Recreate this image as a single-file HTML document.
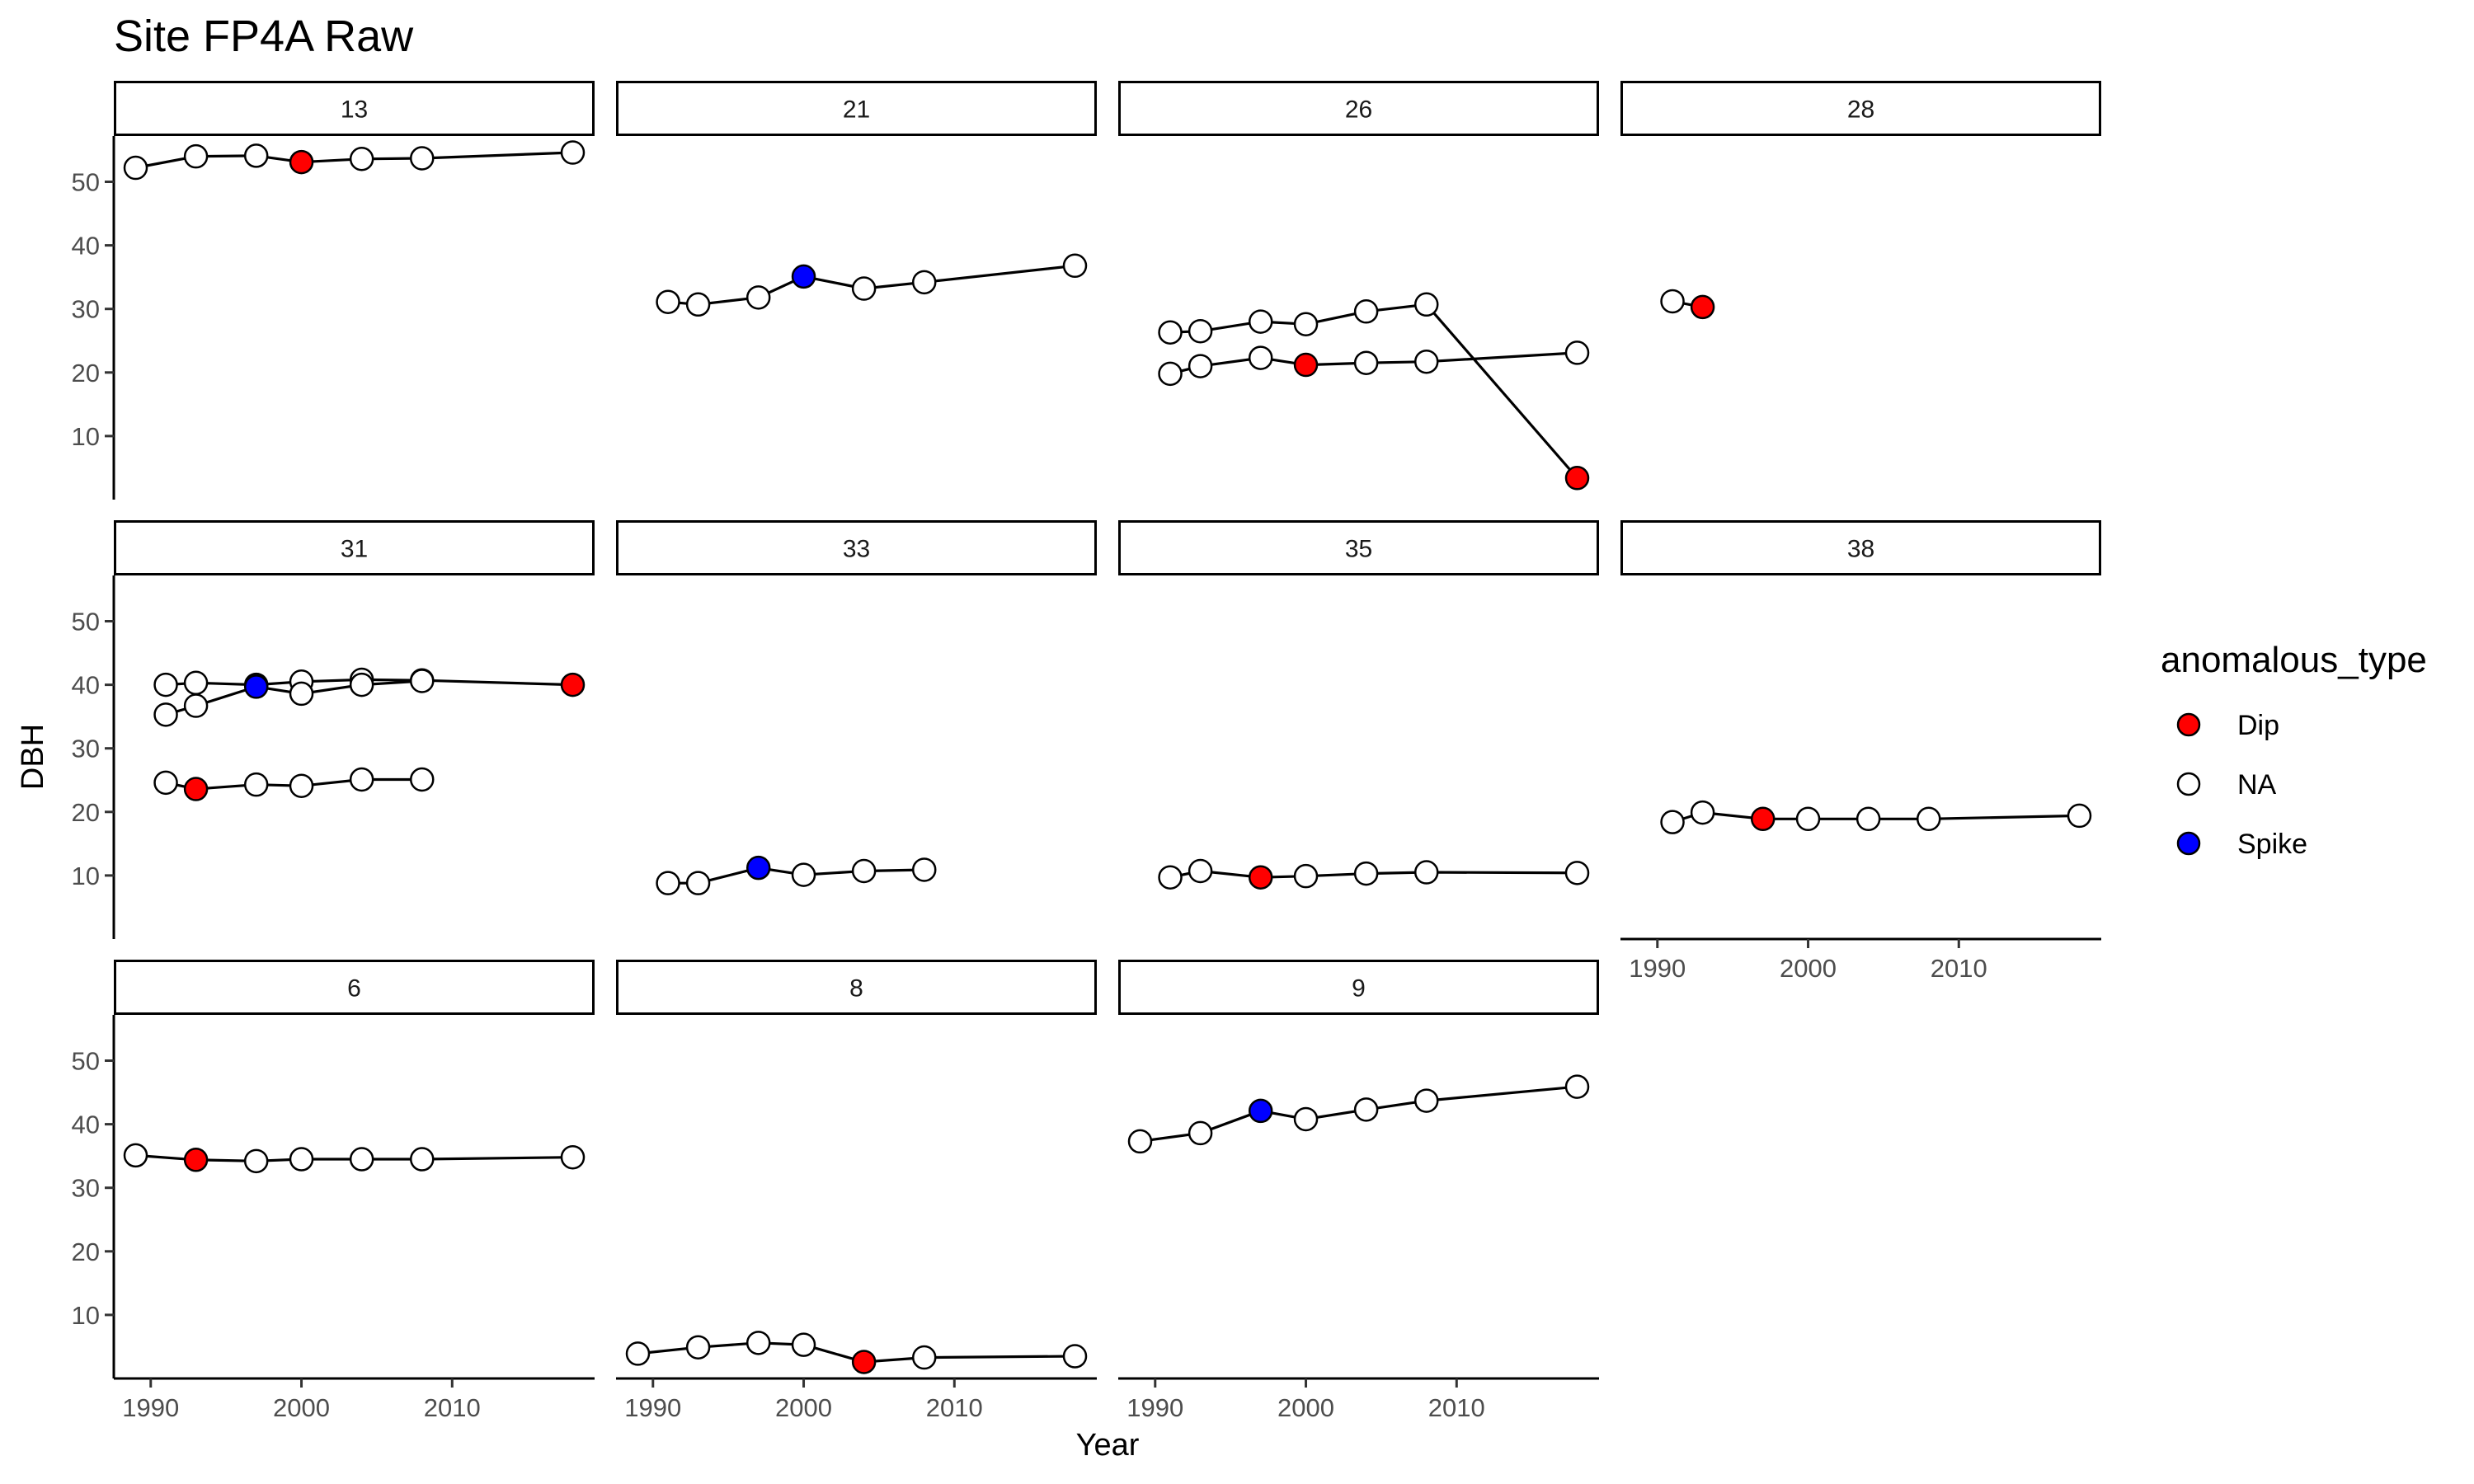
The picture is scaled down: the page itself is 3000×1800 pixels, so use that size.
<!DOCTYPE html>
<html><head><meta charset="utf-8"><style>
html,body{margin:0;padding:0;background:#fff;}
svg{display:block;font-family:"Liberation Sans",Arial,sans-serif;}
</style></head><body>
<svg id="chart" width="3000" height="1800" viewBox="0 0 3000 1800" xmlns="http://www.w3.org/2000/svg">
<rect x="0" y="0" width="3000" height="1800" fill="#fff"/>
<text x="138" y="62" font-size="54" fill="#000">Site FP4A Raw</text>
<text x="1343" y="1765" font-size="38" text-anchor="middle" fill="#000">Year</text>
<text transform="translate(52,918) rotate(-90)" font-size="38" text-anchor="middle" fill="#000">DBH</text>
<g>
<text x="2620" y="815" font-size="44" fill="#000">anomalous_type</text>
<g><circle cx="2654" cy="879" r="13" fill="#ff0000" stroke="#000" stroke-width="2.5"/><text x="2713" y="891" font-size="34" fill="#000">Dip</text></g>
<g><circle cx="2654" cy="951" r="13" fill="#fff" stroke="#000" stroke-width="2.5"/><text x="2713" y="963" font-size="34" fill="#000">NA</text></g>
<g><circle cx="2654" cy="1023" r="13" fill="#0000ff" stroke="#000" stroke-width="2.5"/><text x="2713" y="1035" font-size="34" fill="#000">Spike</text></g>
</g>
<g id="panels"></g>
</svg>
<script>
// ---- data ----
const panelIds = ["13","21","26","28","31","33","35","38","6","8","9"];
const years = [1989,1991,1993,1997,2000,2004,2008,2018];
const xTicks = [1990,2000,2010];
const yTicks = [10,20,30,40,50];
const s13Years = [1989,1993,1997,2000,2004,2008,2018];
const s13Dbh   = [52.2,54.0,54.1,53.1,53.6,53.7,54.6];
const s13Type  = ["N","N","N","D","N","N","N"];
const s21Years = [1991,1993,1997,2000,2004,2008,2018];
const s21Dbh   = [31.1,30.7,31.8,35.1,33.2,34.2,36.8];
const s21Type  = ["N","N","N","S","N","N","N"];
const s26aYears = [1991,1993,1997,2000,2004,2008,2018];
const s26aDbh   = [26.3,26.5,28.0,27.6,29.6,30.7,3.4];
const s26aType  = ["N","N","N","N","N","N","D"];
const s26bYears = [1991,1993,1997,2000,2004,2008,2018];
const s26bDbh   = [19.8,21.0,22.3,21.2,21.5,21.7,23.1];
const s26bType  = ["N","N","N","D","N","N","N"];
const s28Years = [1991,1993];
const s28Dbh   = [31.2,30.3];
const s28Type  = ["N","D"];
const s31aYears = [1991,1993,1997,2000,2004,2008,2018];
const s31aDbh   = [40.0,40.3,40.0,40.5,40.8,40.7,40.0];
const s31aType  = ["N","N","N","N","N","N","D"];
const s31bYears = [1991,1993,1997,2000,2004,2008];
const s31bDbh   = [35.3,36.7,39.7,38.6,40.0,40.6];
const s31bType  = ["N","N","S","N","N","N"];
const s31cYears = [1991,1993,1997,2000,2004,2008];
const s31cDbh   = [24.6,23.6,24.3,24.1,25.1,25.1];
const s31cType  = ["N","D","N","N","N","N"];
const s33Years = [1991,1993,1997,2000,2004,2008];
const s33Dbh   = [8.8,8.8,11.2,10.1,10.7,10.9];
const s33Type  = ["N","N","S","N","N","N"];
const s35Years = [1991,1993,1997,2000,2004,2008,2018];
const s35Dbh   = [9.7,10.7,9.7,9.9,10.3,10.5,10.4];
const s35Type  = ["N","N","D","N","N","N","N"];
const s38Years = [1991,1993,1997,2000,2004,2008,2018];
const s38Dbh   = [18.4,19.9,18.9,18.9,18.9,18.9,19.4];
const s38Type  = ["N","N","D","N","N","N","N"];
const s6Years = [1989,1993,1997,2000,2004,2008,2018];
const s6Dbh   = [35.1,34.4,34.2,34.5,34.5,34.5,34.8];
const s6Type  = ["N","D","N","N","N","N","N"];
const s8Years = [1989,1993,1997,2000,2004,2008,2018];
const s8Dbh   = [3.9,4.9,5.6,5.3,2.6,3.3,3.5];
const s8Type  = ["N","N","N","N","D","N","N"];
const s9Years = [1989,1993,1997,2000,2004,2008,2018];
const s9Dbh   = [37.3,38.6,42.1,40.8,42.3,43.7,45.9];
const s9Type  = ["N","N","S","N","N","N","N"];

const seriesList = [
 ["13",s13Years,s13Dbh,s13Type],["21",s21Years,s21Dbh,s21Type],
 ["26",s26aYears,s26aDbh,s26aType],["26",s26bYears,s26bDbh,s26bType],
 ["28",s28Years,s28Dbh,s28Type],
 ["31",s31aYears,s31aDbh,s31aType],["31",s31bYears,s31bDbh,s31bType],["31",s31cYears,s31cDbh,s31cType],
 ["33",s33Years,s33Dbh,s33Type],["35",s35Years,s35Dbh,s35Type],["38",s38Years,s38Dbh,s38Type],
 ["6",s6Years,s6Dbh,s6Type],["8",s8Years,s8Dbh,s8Type],["9",s9Years,s9Dbh,s9Type]
];

// ---- layout ----
const NS="http://www.w3.org/2000/svg";
const colX=[138,747,1356,1965], PW=583;
const rowStrip=[98,631,1164], SH=67, PH=441;
function mk(tag,attrs,parent){const e=document.createElementNS(NS,tag);for(const k in attrs)e.setAttribute(k,attrs[k]);parent.appendChild(e);return e;}

let allY=[],allX=[];
seriesList.forEach(s=>{allY=allY.concat(s[2]);allX=allX.concat(s[1]);});
const yMin=Math.min(...allY), yMax=Math.max(...allY), yR=yMax-yMin;
const yLo=yMin-0.05*yR, yHi=yMax+0.05*yR;
const xMin=Math.min(...allX), xMax=Math.max(...allX), xR=xMax-xMin;
const xLo=xMin-0.05*xR, xHi=xMax+0.05*xR;
function xs(v,px){return px+(v-xLo)/(xHi-xLo)*PW;}
function ys(v,py){return py+PH-(v-yLo)/(yHi-yLo)*PH;}
const fills={D:"#ff0000",N:"#ffffff",S:"#0000ff"};

const root=document.getElementById("panels");
panelIds.forEach((id,i)=>{
  const r=Math.floor(i/4), c=i%4;
  const px=colX[c], st=rowStrip[r], py=st+SH;
  const g=mk("g",{},root);
  
  
  const strip=mk("rect",{x:px+1.5,y:st+1.5,width:PW-3,height:SH-3,fill:"#fff",stroke:"#000","stroke-width":3},g);
  
  
  const stt=mk("text",{x:px+PW/2,y:st+SH/2+11,"font-size":30,"text-anchor":"middle",fill:"#1a1a1a"},g);
  stt.textContent=id;
  
  
  if(c===0){
    const ya=mk("g",{},g);
    
    
    mk("line",{x1:px,y1:py,x2:px,y2:py+PH,stroke:"#000","stroke-width":3},ya);
    yTicks.forEach(t=>{
      const y=ys(t,py);
      mk("line",{x1:px-11,y1:y,x2:px,y2:y,stroke:"#333","stroke-width":3},ya);
      const tt=mk("text",{x:px-17,y:y+11,"font-size":31,"text-anchor":"end",fill:"#4d4d4d"},ya);
      tt.textContent=t;
    });
  }
  if(r===2 || (r===1 && c===3)){
    const xa=mk("g",{},g);
    
    
    mk("line",{x1:px,y1:py+PH,x2:px+PW,y2:py+PH,stroke:"#000","stroke-width":3},xa);
    xTicks.forEach(t=>{
      const x=xs(t,px);
      mk("line",{x1:x,y1:py+PH,x2:x,y2:py+PH+11,stroke:"#333","stroke-width":3},xa);
      const tt=mk("text",{x:x,y:py+PH+46,"font-size":31,"text-anchor":"middle",fill:"#4d4d4d"},xa);
      tt.textContent=t;
    });
  }
  seriesList.filter(s=>s[0]===id).forEach((s,si)=>{
    const sg=mk("g",{},g);
    
    
    const pts=s[1].map((yr,k)=>xs(yr,px).toFixed(1)+","+ys(s[2][k],py).toFixed(1)).join(" ");
    const pl=mk("polyline",{points:pts,fill:"none",stroke:"#000","stroke-width":3.2,"stroke-linejoin":"round"},sg);
    
    
  });
  seriesList.filter(s=>s[0]===id).forEach((s,si)=>{
    s[1].forEach((yr,k)=>{
      const cc=mk("circle",{cx:xs(yr,px),cy:ys(s[2][k],py),r:13.5,fill:fills[s[3][k]],stroke:"#000","stroke-width":2.5},g);
      
      
    });
  });
});
</script>
</body></html>
